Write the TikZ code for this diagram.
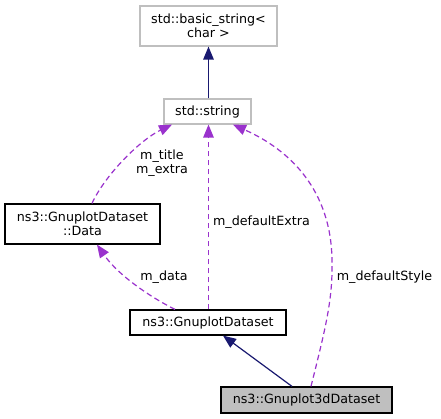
\documentclass[tikz,border=0pt]{standalone}
\usepackage{fontspec}
\setmainfont{DejaVu Sans}
\usetikzlibrary{arrows.meta}
\definecolor{edgeblue}{HTML}{191970}
\definecolor{edgepurple}{HTML}{9A32CD}
\definecolor{boxgray}{HTML}{BFBFBF}
\begin{document}
\begin{tikzpicture}[x=1pt,y=-1pt,
  every node/.style={font=\fontsize{12.7}{14}\selectfont, inner sep=0pt, align=center},
  classbox/.style={draw=black, line width=1.2pt, fill=white},
  extbox/.style={draw=boxgray, line width=1.2pt, fill=white},
  curbox/.style={draw=black, line width=1.2pt, fill=boxgray},
  inherit/.style={draw=edgeblue, line width=1.2pt, -{Triangle[length=13pt,width=10.5pt]}},
  usage/.style={draw=edgepurple, line width=1.2pt, dash pattern=on 5.5pt off 3.5pt, -{Triangle[length=13pt,width=10.5pt]}},
  lbl/.style={text=black}]
\useasboundingbox (0,0) rectangle (441,419);
\fill[white] (0,0) rectangle (441,419);
\node[extbox, minimum width=137pt, minimum height=40pt] (bs) at (208.5,26) {std::basic\_string<\\char >};
\node[extbox, minimum width=87pt, minimum height=25pt] (str) at (207.5,111.5) {std::string};
\node[classbox, minimum width=155pt, minimum height=40pt] (data) at (82.5,224) {ns3::GnuplotDataset\\::Data};
\node[classbox, minimum width=156pt, minimum height=25pt] (gd) at (208,322.5) {ns3::GnuplotDataset};
\node[curbox, minimum width=171pt, minimum height=26pt] (g3) at (306.5,400) {ns3::Gnuplot3dDataset};
% inheritance
\draw[inherit] ([xshift=1pt]str.north) -- ([xshift=1pt]str.north |- bs.south);
\draw[inherit] ([xshift=-14.5pt]g3.north) -- ([xshift=15pt]gd.south);
% usage
\draw[usage] ([xshift=9.5pt]data.north) .. controls (105,175) and (140,140) .. ([xshift=-35.5pt]str.south);
\draw[usage] ([xshift=-33pt]gd.north) .. controls (150,297) and (118,275) .. ([xshift=14.5pt]data.south);
\draw[usage] ([xshift=0.5pt]gd.north) -- ([xshift=0.5pt]gd.north |- str.south);
\draw[usage] ([xshift=4.5pt]g3.north) .. controls (325,330) and (333,300) .. (332,260) .. controls (331,190) and (290,150) .. ([xshift=25.5pt]str.south);
% labels
\node[lbl] (l1) at (162,163) {m\_title\\m\_extra};
\node[lbl] (l2) at (164,277) {m\_data};
\node[lbl] (l3) at (261.5,222) {m\_defaultExtra};
\node[lbl] (l4) at (384.5,277) {m\_defaultStyle};
\end{tikzpicture}
\end{document}
